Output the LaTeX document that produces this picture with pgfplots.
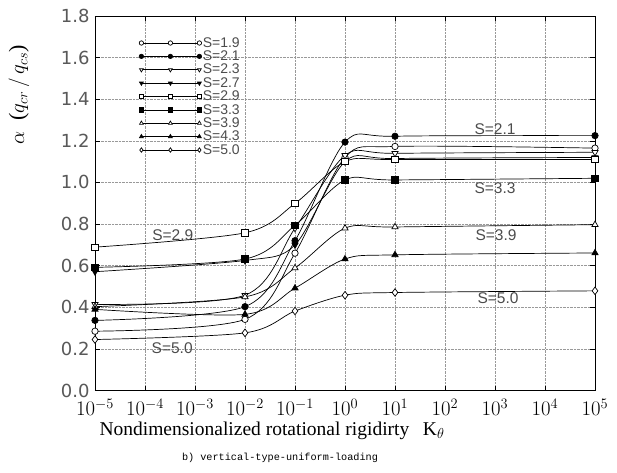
\documentclass[border=0pt]{standalone}
\usepackage{fontspec}
\setmainfont{Liberation Serif}
\setsansfont{Liberation Sans}
\setmonofont{Liberation Mono}
\newfontfamily\tickfont{DejaVu Sans}
\usepackage{pgfplots}
\pgfplotsset{compat=1.18}

\begin{document}
\begin{tikzpicture}
\begin{axis}[
  scale only axis, width=500pt, height=374.5pt,
  xmode=log, xmin=1e-5, xmax=1e5,
  ymin=0, ymax=1.8,
  xtick={1e-5,1e-4,1e-3,1e-2,1e-1,1,10,100,1000,1e4,1e5},
  xminorticks=false,
  ytick={0,0.2,0.4,0.6,0.8,1.0,1.2,1.4,1.6,1.8},
  yticklabels={0.0,0.2,0.4,0.6,0.8,1.0,1.2,1.4,1.6,1.8},
  grid=major, major grid style={densely dotted, black!40, line width=0.4pt},
  axis line style={line width=0.8pt}, tick style={black, line width=0.6pt},
  major tick length=5pt,
  xticklabel style={font=\fontsize{19.5}{20}\selectfont, yshift=-5pt},
  yticklabel style={font=\tickfont\fontsize{18}{19}\selectfont, text=black!65, xshift=-2pt},
  xlabel={Nondimensionalized rotational rigidirty\hspace{0.7em}$\mathrm{K}_\theta$},
  xlabel style={font=\fontsize{19.5}{20}\selectfont, at={(axis description cs:0.354,-0.108)}, anchor=center},
  ylabel={$\alpha$\ \ ($q_{cr}\,/\,q_{cs}$)},
  ylabel style={font=\fontsize{22}{22}\selectfont, at={(axis description cs:-0.152,0.79)}, anchor=center},
  legend style={at={(axis description cs:0.082,0.952)}, anchor=north west, draw=none, fill=none,
    font=\sffamily\fontsize{14}{15}\selectfont, text=black!70,
    nodes={inner sep=1.2pt}, row sep=-0.3pt},
  legend image code/.code={\draw[mark repeat=1,#1,mark size=2.2pt] plot coordinates {(0pt,0pt) (29pt,0pt) (58pt,0pt)};},
  every axis plot/.append style={black, line width=0.7pt, smooth, tension=0.5, mark size=3.2pt},
]
% S=1.9
\addplot[mark=*, mark options={fill=white}] coordinates {
  (1e-5,0.285) (1e-2,0.342) (1e-1,0.66) (1,1.12) (10,1.173) (1e5,1.165)};
% S=2.1
\addplot[mark=*, mark options={fill=black}] coordinates {
  (1e-5,0.337) (1e-2,0.403) (1e-1,0.72) (1,1.194) (10,1.222) (1e5,1.225)};
% S=2.3
\addplot[mark=triangle*, mark size=3.6pt, mark options={rotate=180, fill=white}] coordinates {
  (1e-5,0.414) (1e-2,0.458) (1e-1,0.78) (1,1.13) (10,1.14) (1e5,1.145)};
% S=2.7
\addplot[mark=triangle*, mark size=3.6pt, mark options={rotate=180, fill=black}] coordinates {
  (1e-5,0.571) (1e-2,0.625) (1e-1,0.70) (1,1.10) (10,1.115) (1e5,1.12)};
% S=2.9
\addplot[mark=square*, mark options={fill=white}] coordinates {
  (1e-5,0.689) (1e-2,0.758) (1e-1,0.899) (1,1.10) (10,1.11) (1e5,1.11)};
% S=3.3
\addplot[mark=square*, mark options={fill=black}] coordinates {
  (1e-5,0.592) (1e-2,0.632) (1e-1,0.794) (1,1.012) (10,1.012) (1e5,1.02)};
% S=3.9
\addplot[mark=triangle*, mark size=3.6pt, mark options={fill=white}] coordinates {
  (1e-5,0.403) (1e-2,0.45) (1e-1,0.589) (1,0.78) (10,0.786) (1e5,0.797)};
% S=4.3
\addplot[mark=triangle*, mark size=3.6pt, mark options={fill=black}] coordinates {
  (1e-5,0.39) (1e-2,0.366) (1e-1,0.492) (1,0.632) (10,0.652) (1e5,0.661)};
% S=5.0
\addplot[mark=diamond*, mark size=3.8pt, mark options={fill=white}] coordinates {
  (1e-5,0.245) (1e-2,0.277) (1e-1,0.382) (1,0.458) (10,0.471) (1e5,0.479)};
\legend{S=1.9,S=2.1,S=2.3,S=2.7,S=2.9,S=3.3,S=3.9,S=4.3,S=5.0}

\begin{scope}[every node/.style={font=\sffamily\fontsize{15.5}{16}\selectfont, text=black!70}]
\node at (axis cs:3.6e-4,0.745) {S=2.9};
\node at (axis cs:3.5e-4,0.205) {S=5.0};
\node at (axis cs:1000,1.255) {S=2.1};
\node at (axis cs:1000,0.972) {S=3.3};
\node at (axis cs:1050,0.748) {S=3.9};
\node at (axis cs:1150,0.445) {S=5.0};
\end{scope}
\end{axis}
\node[inner sep=0pt] at (185pt,-67.5pt) {\resizebox{196pt}{!}{\ttfamily b) vertical-type-uniform-loading}};
\pgfresetboundingbox
\path (-95pt,-81.5pt) rectangle (522pt,390.5pt);
\end{tikzpicture}
\end{document}
